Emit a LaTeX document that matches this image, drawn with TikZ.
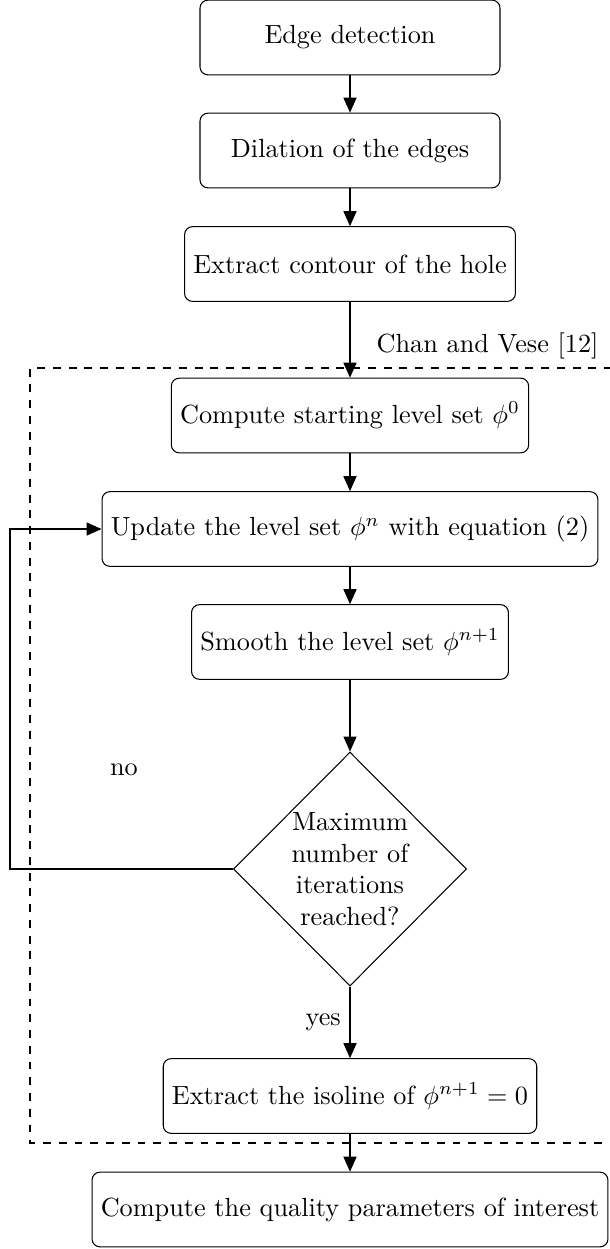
\documentclass[tikz,border=0pt]{standalone}
\usetikzlibrary{arrows.meta,shapes.geometric}
\begin{document}
% one drawing unit = 0.381pt
\def\pxu{0.381pt}
\begin{tikzpicture}[x=\pxu, y=-\pxu,
  stepbox/.style={draw, rounded corners=3pt, minimum width=300*\pxu,
    minimum height=1cm, inner sep=3.33pt, align=center},
  decision/.style={draw, diamond, aspect=1, inner sep=0pt,
    minimum width=233*\pxu, minimum height=234*\pxu, align=center},
  arr/.style={-{Triangle[length=5.7pt,width=5pt]}},
  lbl/.style={inner sep=0pt}]
\useasboundingbox (0,0) rectangle (610,1249);

% processing steps
\node[stepbox] (b1) at (350,37.5) {Edge detection};
\node[stepbox] (b2) at (350,150.5) {Dilation of the edges};
\node[stepbox] (b3) at (350,264) {Extract contour of the hole};
\node[stepbox] (b4) at (350,415.5) {Compute starting level set $\phi^0$};
\node[stepbox] (b5) at (350,529) {Update the level set $\phi^n$ with equation (2)};
\node[stepbox] (b6) at (350,642) {Smooth the level set $\phi^{n+1}$};
\node[decision] (d) at (350,869) {Maximum\\number of\\iterations\\reached?};
\node[stepbox] (b7) at (350,1096) {Extract the isoline of $\phi^{n+1} = 0$};
\node[stepbox] (b8) at (350,1209.5) {Compute the quality parameters of interest};

% Chan--Vese group frame (open towards the right)
\coordinate (ftl) at (30,368);
\coordinate (fbl) at (30,1143);
\draw[dashed] (ftl -| 612,0) -- (ftl) -- (fbl) -- (fbl -| 612,0);
\node[lbl, anchor=base east] (cv) at (599,352) {Chan and Vese [12]};

% main flow
\draw[arr] (b1) -- (b2);
\draw[arr] (b2) -- (b3);
\draw[arr] (b3) -- (b4);
\draw[arr] (b4) -- (b5);
\draw[arr] (b5) -- (b6);
\draw[arr] (b6) -- (d);
\draw[arr] (d) -- node[left] (yes) {yes} (b7);
\draw[arr] (b7) -- (b8);

% iteration loop
\coordinate (lx) at (10,529);
\draw[arr] (d.west) -| (lx) -- (b5.west);
\node (no) at (124,770) {no};
\end{tikzpicture}
\end{document}
